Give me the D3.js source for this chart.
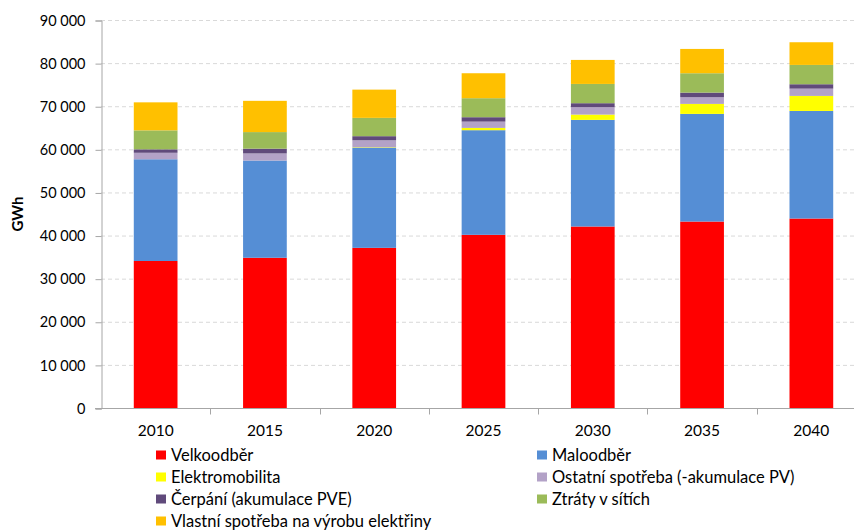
<!DOCTYPE html>
<html>
<head>
<meta charset="utf-8">
<script src="https://cdn.jsdelivr.net/npm/d3@7"></script>
<style>
  body { margin: 0; background: #fff; }
  text { font-family: Lato, "Open Sans", sans-serif; fill: #000; }
</style>
</head>
<body>
<script>
// data (GWh)
var years = ['2010', '2015', '2020', '2025', '2030', '2035', '2040']
var velkoodber = [34100, 34850, 37150, 40170, 42100, 43250, 43950]
var maloodber = [23600, 22550, 23250, 24270, 24730, 24970, 24960]
var elektromobilita = [0, 0, 100, 530, 1230, 2320, 3480]
var ostatni = [1500, 1650, 1600, 1460, 1710, 1550, 1690]
var cerpani = [800, 1100, 950, 1020, 930, 1070, 1020]
var ztraty = [4400, 3850, 4250, 4410, 4470, 4490, 4480]
var vlastni = [6500, 7250, 6550, 5790, 5570, 5640, 5260]
var yTicks = [0, 10000, 20000, 30000, 40000, 50000, 60000, 70000, 80000, 90000]

var seriesNames = ['Velkoodběr', 'Maloodběr', 'Elektromobilita', 'Ostatní spotřeba (-akumulace PV)',
  'Čerpání (akumulace PVE)', 'Ztráty v sítích', 'Vlastní spotřeba na výrobu elektřiny']
var seriesValues = [velkoodber, maloodber, elektromobilita, ostatni, cerpani, ztraty, vlastni]
var colors = ['#ff0000', '#558ed5', '#ffff00', '#b3a2c7', '#604a7b', '#9bbb59', '#ffc000']

var svg = d3.select('body').append('svg')
    .attr('width', 854).attr('height', 531)

var x = d3.scaleBand().domain(years).range([101, 866]).paddingInner(0.6).paddingOuter(0.3)
var y = d3.scaleLinear().domain([0, 90000]).range([408, 20])

var fmt = d3.formatLocale({decimal: ',', thousands: ' ', grouping: [3], currency: ['', '']}).format(',')

// gridlines
svg.append('g').selectAll('line')
    .data(yTicks.slice(1))
    .enter().append('line')
    .attr('x1', 101).attr('x2', 854)
    .attr('y1', function(d){return y(d) + 0.5}).attr('y2', function(d){return y(d) + 0.5})
    .attr('stroke', '#d9d9d9').attr('stroke-width', 1)
    .attr('stroke-dasharray', '4,3')

// stacked bars
var table = years.map(function(yr, i){
  var row = {year: yr}
  seriesNames.forEach(function(n, k){ row[n] = seriesValues[k][i] })
  return row
})
var stack = d3.stack().keys(seriesNames)(table)

svg.append('g').selectAll('g')
    .data(stack)
    .enter().append('g')
    .attr('fill', function(d, i){return colors[i]})
    .selectAll('rect')
    .data(function(d){return d})
    .enter().append('rect')
    .attr('x', function(d){return x(d.data.year)})
    .attr('width', x.bandwidth())
    .attr('y', function(d){return y(d[1])})
    .attr('height', function(d){return y(d[0]) - y(d[1])})

// y axis
var yAxis = d3.axisLeft(y).tickValues(yTicks).tickSize(6).tickPadding(10)
    .tickFormat(function(d){return fmt(d)})
var gy = svg.append('g').attr('transform', 'translate(101.5,0.5)').call(yAxis)
gy.select('.domain').attr('stroke', '#a6a6a6')
gy.selectAll('.tick line').attr('stroke', '#a6a6a6')
gy.selectAll('.tick text').style('font-size', '14.5px').attr('fill', '#000')

// x axis
var gx = svg.append('g').attr('transform', 'translate(0,408.5)')
gx.append('line').attr('x1', 95).attr('x2', 854).attr('stroke', '#a6a6a6')
var step = x.step()
gx.selectAll('.xt')
    .data(years)
    .enter().append('line')
    .attr('class', 'xt')
    .attr('x1', function(d){return Math.round(x(d) + x.bandwidth() / 2 + step / 2) + 0.5})
    .attr('x2', function(d){return Math.round(x(d) + x.bandwidth() / 2 + step / 2) + 0.5})
    .attr('y1', 0).attr('y2', 6)
    .attr('stroke', '#a6a6a6')
gx.selectAll('.xl')
    .data(years)
    .enter().append('text')
    .attr('class', 'xl')
    .attr('x', function(d){return x(d) + x.bandwidth() / 2})
    .attr('y', 27)
    .attr('text-anchor', 'middle')
    .style('font-size', '15.5px')
    .text(function(d){return d})

// y title
svg.append('text')
    .attr('transform', 'translate(23,214) rotate(-90)')
    .attr('text-anchor', 'middle')
    .style('font-size', '15px').style('font-weight', 'bold')
    .text('GWh')

// legend
var legend = svg.append('g').selectAll('g')
    .data(seriesNames)
    .enter().append('g')
    .attr('transform', function(d, i){
      var col = i % 2, row = Math.floor(i / 2)
      return 'translate(' + (col ? 537 : 156) + ',' + (455 + row * 22) + ')'
    })
legend.append('rect')
    .attr('x', 0).attr('y', -4.5).attr('width', 10).attr('height', 9)
    .attr('fill', function(d, i){return colors[i]})
legend.append('text')
    .attr('x', 15).attr('y', 5.5)
    .style('font-size', '16.5px')
    .text(function(d){return d})
</script>
</body>
</html>
